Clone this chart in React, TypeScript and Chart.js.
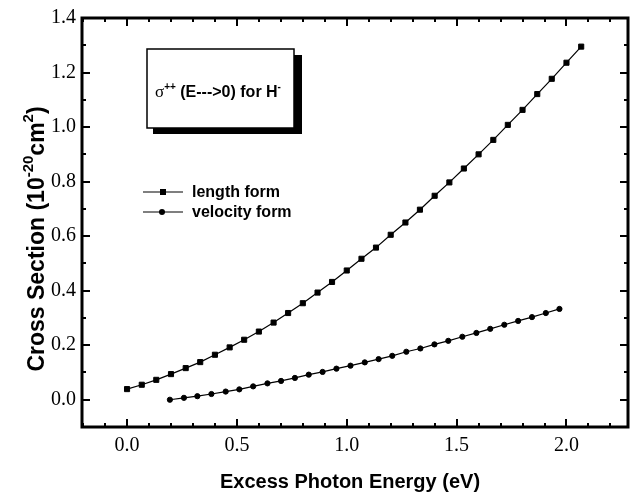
import React, { useEffect, useRef } from "react";
import { Chart, registerables } from "chart.js";

Chart.register(...registerables);

// ---- data ----
const lengthEnergy = [
  0, 0.067, 0.133, 0.2, 0.267, 0.333, 0.4, 0.467, 0.533, 0.6, 0.667, 0.733, 0.8, 0.867, 0.933, 1.0,
  1.067, 1.133, 1.2, 1.267, 1.333, 1.4, 1.467, 1.533, 1.6, 1.667, 1.733, 1.8, 1.867, 1.933, 2.0, 2.067,
];
const lengthCross = [
  0.039, 0.055, 0.073, 0.094, 0.116, 0.138, 0.165, 0.192, 0.22, 0.25, 0.283, 0.318, 0.354, 0.393, 0.432,
  0.474, 0.517, 0.558, 0.605, 0.65, 0.697, 0.748, 0.797, 0.848, 0.9, 0.953, 1.008, 1.063, 1.121, 1.177,
  1.236, 1.295,
];
const velocityEnergy = [
  0.195, 0.259, 0.32, 0.384, 0.449, 0.511, 0.574, 0.639, 0.701, 0.764, 0.827, 0.89, 0.953, 1.017, 1.082,
  1.145, 1.207, 1.271, 1.335, 1.399, 1.462, 1.526, 1.59, 1.653, 1.717, 1.78, 1.843, 1.906, 1.968,
];
const velocityCross = [
  0.0, 0.007, 0.013, 0.021, 0.03, 0.038, 0.049, 0.06, 0.069, 0.08, 0.092, 0.102, 0.114, 0.125, 0.137,
  0.149, 0.161, 0.176, 0.188, 0.203, 0.216, 0.231, 0.245, 0.26, 0.275, 0.289, 0.303, 0.318, 0.333,
];
const seriesLabels = ["length form", "velocity form"];
const xTickValues = [0, 0.5, 1.0, 1.5, 2.0];
const yTickValues = [0, 0.2, 0.4, 0.6, 0.8, 1.0, 1.2, 1.4];
const xRange = [-0.205, 2.28];
const yRange = [-0.1, 1.4];
const xMinorStep = 0.1;
const yMinorStep = 0.1;
const xTitle = "Excess Photon Energy (eV)";
const yTitleParts = [
  { text: "Cross Section (10", sup: false },
  { text: "-20", sup: true },
  { text: "cm", sup: false },
  { text: "2", sup: true },
  { text: ")", sup: false },
];
const annotationParts = [
  { text: "\u03C3", kind: "greek" },
  { text: "++", kind: "sup" },
  { text: " (E--->0) for H", kind: "main" },
  { text: "-", kind: "sup" },
];

const SANS = "'Liberation Sans', Arial, sans-serif";
const SERIF = "'Liberation Serif', 'Times New Roman', serif";

const decorPlugin = {
  id: "decor",
  afterDraw(chart: any) {
    const { ctx, chartArea: a } = chart;
    const xs = chart.scales.x;
    const ys = chart.scales.y;
    ctx.save();
    ctx.strokeStyle = "#000";
    ctx.fillStyle = "#000";

    // inward ticks on all four sides
    ctx.lineWidth = 2;
    ctx.beginPath();
    const kx0 = Math.ceil(xRange[0] / xMinorStep - 1e-6);
    const kx1 = Math.floor(xRange[1] / xMinorStep + 1e-6);
    for (let k = kx0; k <= kx1; k++) {
      const v = k * xMinorStep;
      const px = Math.round(xs.getPixelForValue(v));
      const major = xTickValues.some((t) => Math.abs(t - v) < 1e-6) || Math.abs((v / 0.5) % 1) < 1e-6;
      const len = major ? 8 : 4;
      ctx.moveTo(px, a.bottom);
      ctx.lineTo(px, a.bottom - len);
      ctx.moveTo(px, a.top);
      ctx.lineTo(px, a.top + len);
    }
    const ky0 = Math.ceil(yRange[0] / yMinorStep - 1e-6);
    const ky1 = Math.floor(yRange[1] / yMinorStep + 1e-6);
    for (let k = ky0; k <= ky1; k++) {
      const v = k * yMinorStep;
      const py = Math.round(ys.getPixelForValue(v));
      const major = yTickValues.some((t) => Math.abs(t - v) < 1e-6);
      const len = major ? 8 : 4;
      ctx.moveTo(a.left, py);
      ctx.lineTo(a.left + len, py);
      ctx.moveTo(a.right, py);
      ctx.lineTo(a.right - len, py);
    }
    ctx.stroke();

    // frame
    ctx.lineWidth = 3;
    ctx.strokeRect(a.left, a.top, a.right - a.left, a.bottom - a.top);

    // x title
    ctx.font = `bold 20px ${SANS}`;
    ctx.textAlign = "center";
    ctx.textBaseline = "alphabetic";
    ctx.fillText(xTitle, 350, 488);

    // y title (rotated, with superscripts)
    const mainFont = `bold 23px ${SANS}`;
    const supFont = `bold 15px ${SANS}`;
    let total = 0;
    for (const p of yTitleParts) {
      ctx.font = p.sup ? supFont : mainFont;
      total += ctx.measureText(p.text).width;
    }
    ctx.save();
    ctx.translate(44, 239);
    ctx.rotate(-Math.PI / 2);
    ctx.textAlign = "left";
    let cx = -total / 2;
    for (const p of yTitleParts) {
      ctx.font = p.sup ? supFont : mainFont;
      ctx.fillText(p.text, cx, p.sup ? -11 : 0);
      cx += ctx.measureText(p.text).width;
    }
    ctx.restore();

    // legend
    const legendRows = [
      { label: seriesLabels[0], y: 192, style: "rect" },
      { label: seriesLabels[1], y: 212, style: "circle" },
    ];
    for (const r of legendRows) {
      ctx.lineWidth = 1.2;
      ctx.beginPath();
      ctx.moveTo(143, r.y);
      ctx.lineTo(183, r.y);
      ctx.stroke();
      ctx.beginPath();
      if (r.style === "rect") {
        ctx.rect(160, r.y - 3, 6, 6);
      } else {
        ctx.arc(162, r.y, 3, 0, Math.PI * 2);
      }
      ctx.fill();
      ctx.font = `bold 16px ${SANS}`;
      ctx.textAlign = "left";
      ctx.textBaseline = "middle";
      ctx.fillText(r.label, 192, r.y + 1);
    }

    // annotation box with drop shadow
    ctx.fillStyle = "#000";
    ctx.fillRect(153, 55, 149, 79);
    ctx.fillStyle = "#fff";
    ctx.fillRect(147, 49, 147, 79);
    ctx.lineWidth = 1.5;
    ctx.strokeStyle = "#000";
    ctx.strokeRect(147, 49, 147, 79);
    ctx.fillStyle = "#000";
    ctx.textBaseline = "alphabetic";
    ctx.textAlign = "left";
    let ax = 155;
    for (const p of annotationParts) {
      let font = `bold 16px ${SANS}`;
      let dy = 0;
      if (p.kind === "greek") font = `17px ${SERIF}`;
      if (p.kind === "sup") {
        font = `bold 10px ${SANS}`;
        dy = -7;
      }
      ctx.font = font;
      ctx.fillText(p.text, ax, 97 + dy);
      ax += ctx.measureText(p.text).width;
    }
    ctx.restore();
  },
};

export default function App() {
  const ref = useRef<HTMLCanvasElement | null>(null);
  useEffect(() => {
    if (!ref.current) return;
    const chart = new Chart(ref.current, {
      type: "line",
      data: {
        datasets: [
          {
            label: seriesLabels[0],
            data: lengthEnergy.map((x, i) => ({ x, y: lengthCross[i] })),
            borderColor: "#000",
            backgroundColor: "#000",
            borderWidth: 1.2,
            pointStyle: "rect",
            pointRadius: 3.6,
            pointBorderWidth: 1,
            pointBackgroundColor: "#000",
            pointBorderColor: "#000",
            tension: 0,
          },
          {
            label: seriesLabels[1],
            data: velocityEnergy.map((x, i) => ({ x, y: velocityCross[i] })),
            borderColor: "#000",
            backgroundColor: "#000",
            borderWidth: 1.2,
            pointStyle: "circle",
            pointRadius: 2.6,
            pointBorderWidth: 1,
            pointBackgroundColor: "#000",
            pointBorderColor: "#000",
            tension: 0,
          },
        ],
      },
      options: {
        animation: false,
        responsive: false,
        devicePixelRatio: 1,
        layout: { padding: { left: 0, top: 17, right: 6, bottom: 0 } },
        plugins: { legend: { display: false }, tooltip: { enabled: false } },
        scales: {
          x: {
            type: "linear",
            min: xRange[0],
            max: xRange[1],
            grid: { display: false, drawTicks: false },
            border: { display: false },
            afterBuildTicks: (s: any) => {
              s.ticks = xTickValues.map((v) => ({ value: v }));
            },
            afterFit: (s: any) => {
              s.height = 67;
            },
            ticks: {
              padding: 7,
              color: "#000",
              font: { family: SERIF, size: 20 },
              callback: (v: any) => Number(v).toFixed(1),
              maxRotation: 0,
            },
          },
          y: {
            type: "linear",
            min: yRange[0],
            max: yRange[1],
            grid: { display: false, drawTicks: false },
            border: { display: false },
            afterBuildTicks: (s: any) => {
              s.ticks = yTickValues.map((v) => ({ value: v }));
            },
            afterFit: (s: any) => {
              s.width = 82;
            },
            ticks: {
              padding: 6,
              color: "#000",
              font: { family: SERIF, size: 20 },
              callback: (v: any) => Number(v).toFixed(1),
            },
          },
        },
      },
      plugins: [decorPlugin],
    });
    return () => chart.destroy();
  }, []);
  return (
    <div style={{ position: "absolute", left: 0, top: 0, width: 634, height: 494, background: "#fff" }}>
      <canvas ref={ref} width={634} height={494} />
    </div>
  );
}
